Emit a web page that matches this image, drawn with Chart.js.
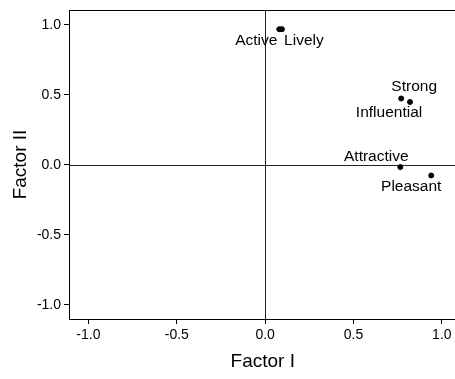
<!DOCTYPE html>
<html>
<head>
<meta charset="utf-8">
<script src="https://cdn.jsdelivr.net/npm/chart.js@4"></script>
<style>
  html, body { margin: 0; padding: 0; background: #fff; overflow: hidden; }
  canvas { display: block; }
</style>
</head>
<body>
<canvas id="factorChart" width="460" height="379"></canvas>
<script>
  // factor loadings
  const itemNames = ['Active', 'Lively', 'Strong', 'Influential', 'Attractive', 'Pleasant'];
  const factor1 = [0.08, 0.095, 0.77, 0.82, 0.765, 0.94];
  const factor2 = [0.97, 0.97, 0.475, 0.45, -0.015, -0.075];

  const xTicks = [-1.0, -0.5, 0.0, 0.5, 1.0];
  const yTicks = [-1.0, -0.5, 0.0, 0.5, 1.0];

  const fontFamily = '"Liberation Sans", Arial, Helvetica, sans-serif';

  // where each label sits relative to its point (px)
  const labelShift = {
    'Active': [-23, 12],
    'Lively': [22, 12],
    'Strong': [13, -12],
    'Influential': [-21, 11],
    'Attractive': [-24, -10],
    'Pleasant': [-20, 11]
  };

  // zero lines, top frame and point labels
  const extras = {
    id: 'extras',
    beforeDatasetsDraw(chart) {
      const c = chart.ctx, a = chart.chartArea;
      const x0 = chart.scales.x.getPixelForValue(0);
      const y0 = chart.scales.y.getPixelForValue(0);
      c.save();
      c.strokeStyle = '#222';
      c.lineWidth = 1;
      c.beginPath();
      c.moveTo(Math.round(x0) + 0.5, a.top);
      c.lineTo(Math.round(x0) + 0.5, a.bottom);
      c.moveTo(a.left, Math.round(y0) + 0.5);
      c.lineTo(a.right, Math.round(y0) + 0.5);
      c.stroke();
      c.strokeStyle = '#000';
      c.beginPath();
      c.moveTo(a.left, a.top + 0.5);
      c.lineTo(a.right, a.top + 0.5);
      c.stroke();
      c.restore();
    },
    afterDatasetsDraw(chart) {
      const c = chart.ctx;
      const meta = chart.getDatasetMeta(0);
      c.save();
      c.fillStyle = '#000';
      c.font = '15.5px ' + fontFamily;
      c.textAlign = 'center';
      c.textBaseline = 'middle';
      meta.data.forEach((pt, i) => {
        const s = labelShift[itemNames[i]] || [0, 12];
        c.fillText(itemNames[i], pt.x + s[0], pt.y + s[1]);
      });
      c.restore();
    }
  };

  let ctx = document.getElementById('factorChart').getContext('2d');

  let chart = new Chart(ctx, {
    type: 'scatter',
    data: {
      datasets: [{
        data: itemNames.map((n, i) => ({ x: factor1[i], y: factor2[i] })),
        backgroundColor: '#000',
        borderColor: '#000',
        pointRadius: 2.5,
        pointHoverRadius: 2.5
      }]
    },
    options: {
      responsive: false,
      animation: false,
      layout: { padding: { top: 10, right: 0, left: 0, bottom: 0 } },
      plugins: {
        legend: { display: false },
        tooltip: { enabled: false }
      },
      scales: {
        x: {
          type: 'linear',
          min: -1.11,
          max: 1.083,
          afterBuildTicks: s => { s.ticks = xTicks.map(v => ({ value: v })); },
          afterFit: s => { s.height = 60; s.paddingLeft = 0; s.paddingRight = 0; },
          border: { display: true, color: '#000', width: 1 },
          grid: { drawOnChartArea: false, drawTicks: true, tickLength: 5, tickColor: '#000' },
          ticks: {
            color: '#000',
            padding: 3,
            font: { family: fontFamily, size: 14 },
            callback: v => Number(v).toFixed(1)
          },
          title: {
            display: true,
            text: 'Factor I',
            color: '#000',
            font: { family: fontFamily, size: 19 },
            padding: { top: 2, bottom: 6 }
          }
        },
        y: {
          type: 'linear',
          min: -1.1,
          max: 1.107,
          afterBuildTicks: s => { s.ticks = yTicks.map(v => ({ value: v })); },
          afterFit: s => { s.width = 69; s.paddingTop = 0; s.paddingBottom = 0; },
          border: { display: true, color: '#000', width: 1 },
          grid: { drawOnChartArea: false, drawTicks: true, tickLength: 5, tickColor: '#000' },
          ticks: {
            color: '#000',
            padding: 3,
            font: { family: fontFamily, size: 14 },
            callback: v => Number(v).toFixed(1)
          },
          title: {
            display: true,
            text: 'Factor II',
            color: '#000',
            font: { family: fontFamily, size: 19 },
            padding: { top: 9, bottom: 0 }
          }
        }
      }
    },
    plugins: [extras]
  });
</script>
</body>
</html>
